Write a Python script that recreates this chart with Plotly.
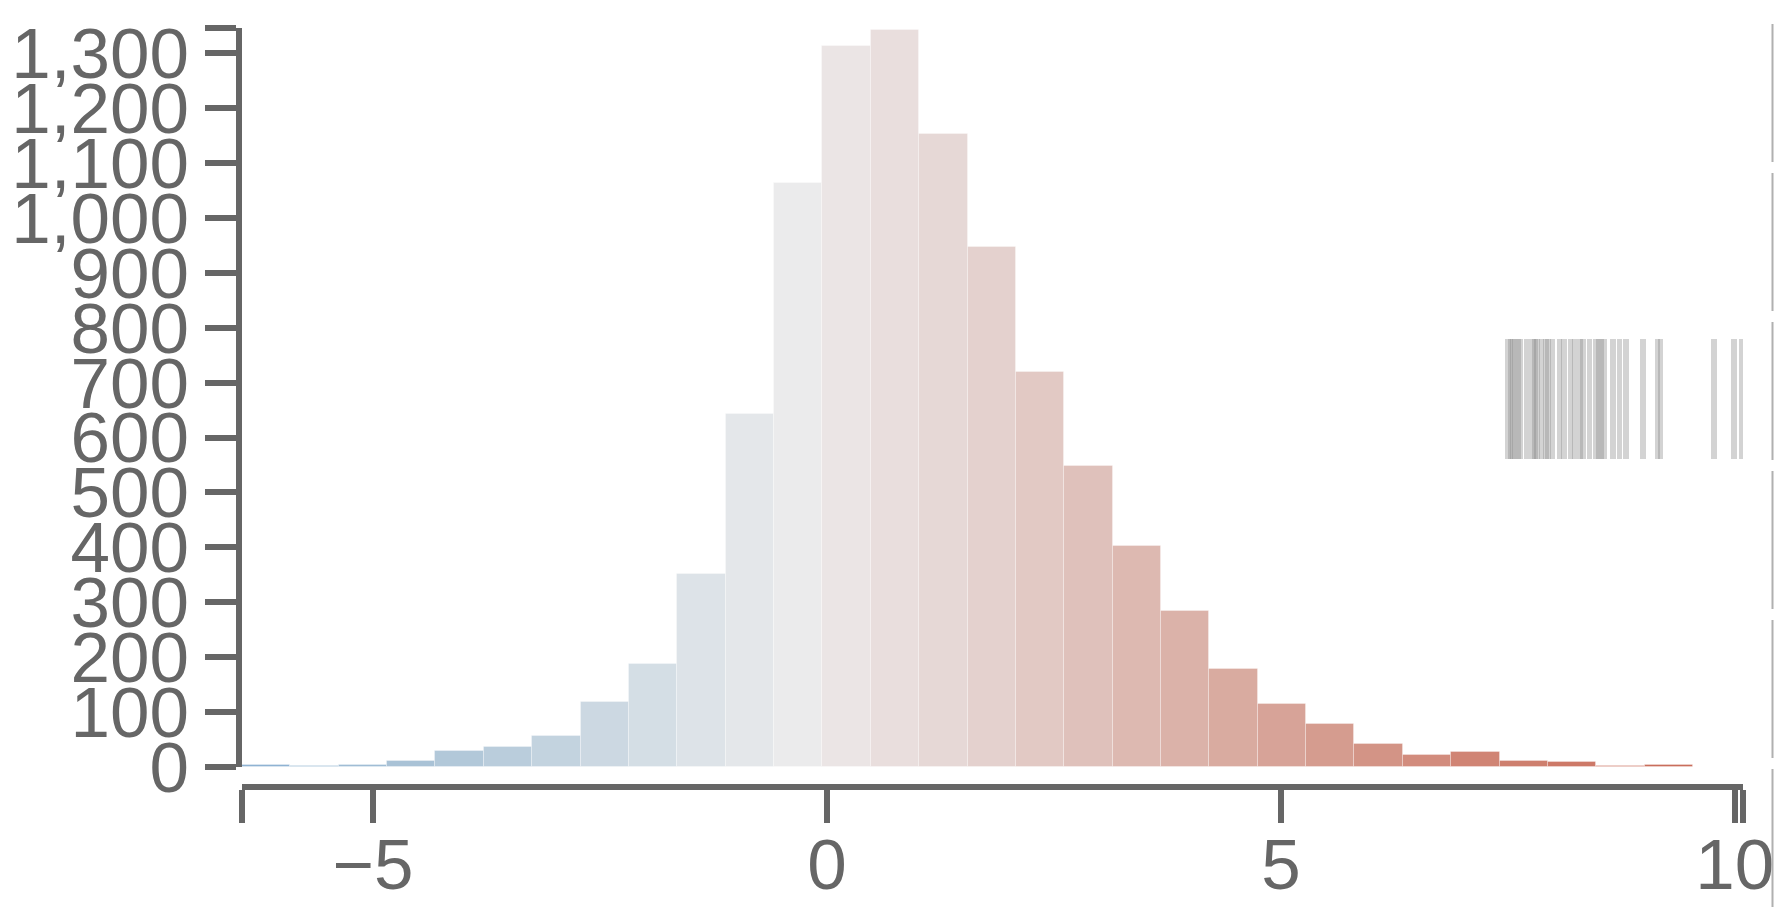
import numpy as np
import plotly.graph_objects as go

# ---------------- data ----------------
bin_start = -6.443
bin_end = 9.54
counts = [3, 1, 4, 11, 30, 36, 57, 119, 188, 351, 643, 1064, 1313, 1342, 1153,
          947, 720, 548, 403, 284, 178, 115, 79, 41, 22, 28, 11, 9, 2, 4]

rug_values = [7.50, 7.53, 7.55, 7.58, 7.61, 7.64, 7.71, 7.78, 7.80, 7.82, 7.87,
              7.92, 7.94, 7.99, 8.07, 8.12, 8.19, 8.24, 8.30, 8.33, 8.40, 8.47,
              8.50, 8.53, 8.56, 8.66, 8.73, 8.80, 8.99, 9.15, 9.18, 9.77, 9.99, 10.08]
rug_low = 561
rug_high = 780

x_range = [-6.443, 10.09]
y_top = 1346
x_tick_vals = [-5, 0, 5, 10]
x_tick_text = ["\u22125", "0", "5", "10"]
y_tick_vals = list(range(0, 1301, 100))
y_tick_text = [f"{v:,}" for v in y_tick_vals]

# colour stops (value -> rgb) for the diverging fill
stop_x = [-6.18, -4.58, -2.98, -1.38, -0.31, 0.22, 1.82, 3.42, 5.55, 7.15, 9.28]
stop_rgb = [(143, 179, 211), (169, 194, 214), (195, 211, 223), (221, 227, 232),
            (235, 235, 236), (235, 229, 229), (228, 209, 206), (221, 185, 177),
            (213, 156, 143), (208, 132, 116), (201, 110, 92)]

# ---------------- derived ----------------
n = len(counts)
bw = (bin_end - bin_start) / n
centers = bin_start + bw * (np.arange(n) + 0.5)
sx = np.array(stop_x)
srgb = np.array(stop_rgb, dtype=float)
colors = []
for c in centers:
    r = np.interp(c, sx, srgb[:, 0]); g = np.interp(c, sx, srgb[:, 1]); b = np.interp(c, sx, srgb[:, 2])
    colors.append(f"rgb({int(round(r))},{int(round(g))},{int(round(b))})")

AX = "#666666"
FONT = dict(family="Liberation Sans, Arial, Helvetica, sans-serif", size=71, color=AX)

fig = go.Figure()
fig.add_trace(go.Bar(
    x=centers, y=counts, width=[bw] * n,
    marker=dict(color=colors, line=dict(color="rgba(255,255,255,0.3)", width=1)),
    showlegend=False, hoverinfo="x+y",
))
fig.add_trace(go.Bar(
    x=rug_values, y=[rug_high - rug_low] * len(rug_values), base=[rug_low] * len(rug_values),
    width=[0.062] * len(rug_values),
    marker=dict(color="rgba(140,140,140,0.38)", line=dict(width=0)),
    showlegend=False, hoverinfo="x",
))

W, H = 1774, 918
L, R, T, B = 242, 31, 28, 131
plot_h = H - T - B
y_dom0 = 20 / plot_h

fig.update_layout(
    width=W, height=H,
    margin=dict(l=L, r=R, t=T, b=B, pad=0, autoexpand=False),
    paper_bgcolor="white", plot_bgcolor="white",
    barmode="overlay", bargap=0,
    font=FONT,
    xaxis=dict(
        range=x_range, anchor="free", position=0, automargin=False,
        showline=True, linecolor=AX, linewidth=5.5,
        ticks="outside", ticklen=33, tickwidth=5.5, tickcolor=AX,
        tickmode="array",
        tickvals=[x_range[0]] + x_tick_vals + [x_range[1]],
        ticktext=[""] + x_tick_text + [""],
        ticklabelstandoff=-19, ticklabeloverflow="allow",
        tickfont=FONT, showgrid=False, zeroline=False,
    ),
    yaxis=dict(
        domain=[y_dom0, 1], range=[0, y_top], automargin=False,
        showline=True, linecolor=AX, linewidth=5.5,
        ticks="outside", ticklen=31, tickwidth=5.5, tickcolor=AX,
        tickmode="array",
        tickvals=y_tick_vals + [y_top],
        ticktext=y_tick_text + [""],
        ticklabelstandoff=2, ticklabeloverflow="allow",
        tickfont=FONT, showgrid=False, zeroline=False,
    ),
)

# dashed vertical line at the right edge
line_x_px = 1772.5
fig.add_shape(
    type="line", xref="paper", yref="paper",
    x0=(line_x_px - L) / (W - L - R), x1=(line_x_px - L) / (W - L - R),
    y0=(H - B - 24) / plot_h, y1=(H - B - 918) / plot_h,
    line=dict(color="#b0b0b0", width=2, dash="138px,11px"),
)

fig.write_html(
    "out.html",
    config={"displayModeBar": False},
    post_script="document.body.style.margin='0';document.body.style.padding='0';"
                "document.body.style.overflow='hidden';",
)
